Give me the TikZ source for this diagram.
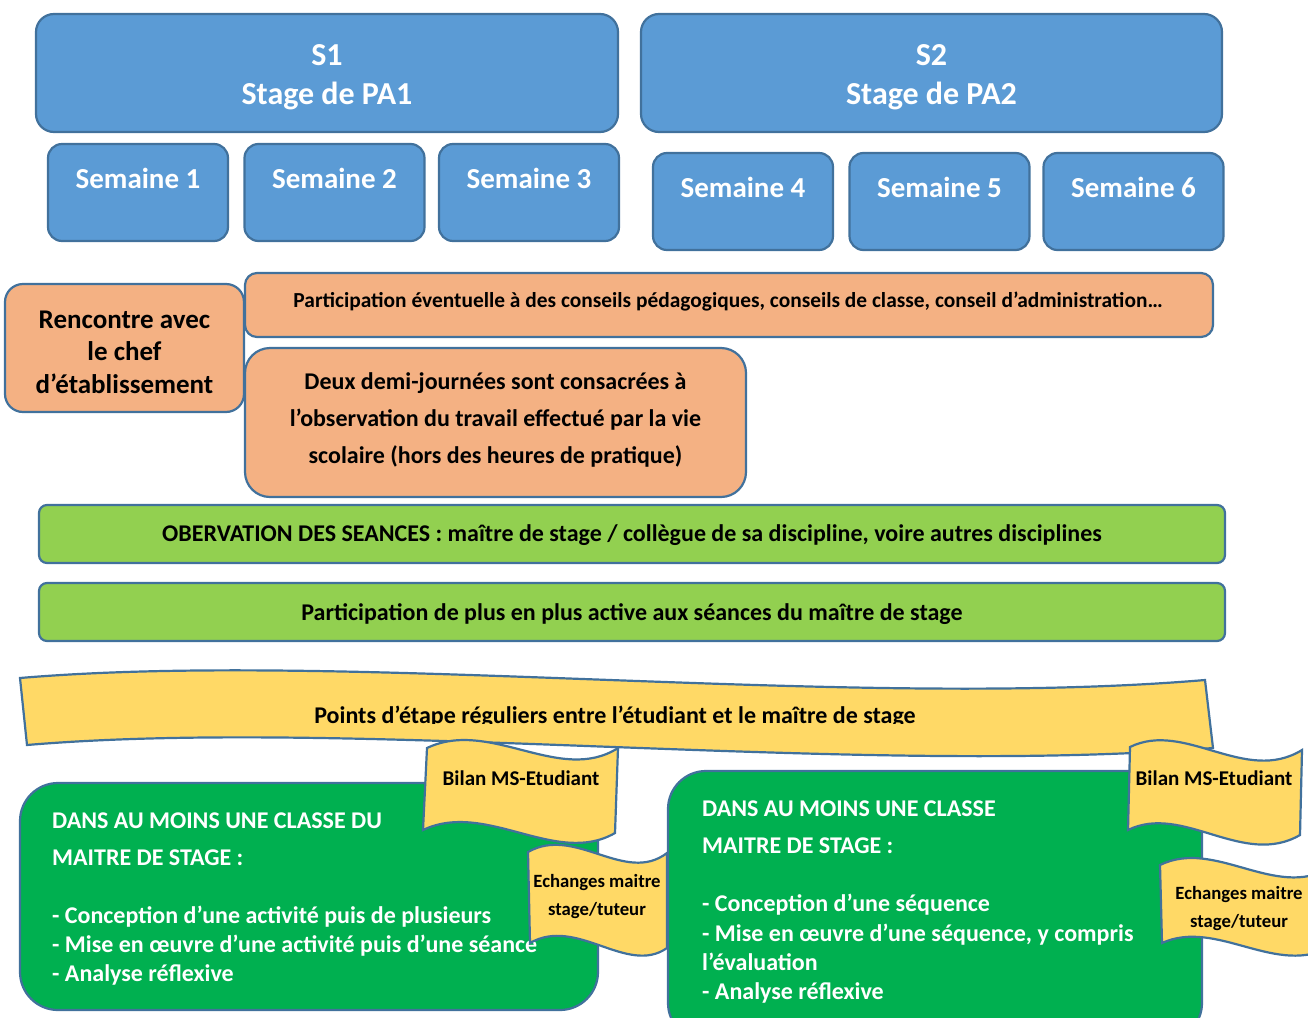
\documentclass[tikz,border=0pt]{standalone}
\usepackage{fontspec}
\setmainfont{Carlito}
\definecolor{bfill}{HTML}{5B9BD5}
\definecolor{bline}{HTML}{41719C}
\definecolor{ofill}{HTML}{F4B183}
\definecolor{lgreen}{HTML}{92D050}
\definecolor{dgreen}{HTML}{00B050}
\definecolor{yfill}{HTML}{FFD966}
\newcommand{\fs}[2]{\fontsize{#1}{#2}\selectfont\bfseries}
\begin{document}
\begin{tikzpicture}[x=1pt,y=-1pt,
  box/.style={draw=bline,line width=2.2pt,inner sep=0pt},
  bluebox/.style={box,fill=bfill,rounded corners=18pt},
  weekbox/.style={box,fill=bfill,rounded corners=14pt,minimum width=180pt,minimum height=97pt},
  weektxt/.style={text=white,font=\fs{29}{32}},
  orangebox/.style={box,fill=ofill},
  greenbar/.style={box,fill=lgreen,rounded corners=8pt,minimum width=1186pt,minimum height=58pt,font=\fs{24}{26}},
  darkbox/.style={box,fill=dgreen,rounded corners=38pt},
  dtxt/.style={anchor=base west,inner sep=0pt,text=white,font=\fs{24}{26}},
  flag/.style={draw=bline,line width=2.2pt,fill=yfill},
  flagtxt/.style={font=\fs{21}{24}},
  echtxt/.style={align=center,font=\fs{18.7}{28}}]
\useasboundingbox (0,0) rectangle (1308,1017);
% top blue boxes
\node[bluebox,minimum width=582pt,minimum height=118pt] (s1) at (327,73) {};
\node[bluebox,minimum width=581pt,minimum height=118pt] (s2) at (931.5,73) {};
\node[text=white,align=center,font=\fs{32}{39}] (s1t) at (327,77) {S1\\Stage de PA1};
\node[text=white,align=center,font=\fs{32}{39}] (s2t) at (931.5,77) {S2\\Stage de PA2};
\node[weekbox] (w1) at (138,192.5) {};
\node[weekbox] (w2) at (334.5,192.5) {};
\node[weekbox] (w3) at (529,192.5) {};
\node[weekbox] (w4) at (743,201.5) {};
\node[weekbox] (w5) at (939.5,201.5) {};
\node[weekbox] (w6) at (1133.5,201.5) {};
\node[weektxt] (t1) at (138,178.5) {Semaine 1};
\node[weektxt] (t2) at (334.5,178.5) {Semaine 2};
\node[weektxt] (t3) at (529,178.5) {Semaine 3};
\node[weektxt] (t4) at (743,187.5) {Semaine 4};
\node[weektxt] (t5) at (939.5,187.5) {Semaine 5};
\node[weektxt] (t6) at (1133.5,187.5) {Semaine 6};
% orange boxes
\node[orangebox,rounded corners=12pt,minimum width=968pt,minimum height=64pt] (conseils) at (729,305) {};
\node[font=\fs{21.4}{24}] (conseilst) at (728,302) {Participation éventuelle à des conseils pédagogiques, conseils de classe, conseil d’administration…};
\node[orangebox,rounded corners=18pt,minimum width=239pt,minimum height=128pt] (chef) at (124.5,348) {};
\node[align=center,font=\fs{27}{32.5}] (cheft) at (124.5,352) {Rencontre avec\\le chef\\d’établissement};
\node[orangebox,rounded corners=25pt,minimum width=501pt,minimum height=149pt] (demi) at (495.5,422.5) {};
\node[align=center,font=\fs{24}{37}] (demit) at (495.5,419.5) {Deux demi-journées sont consacrées à\\l’observation du travail effectué par la vie\\scolaire (hors des heures de pratique)};
% green bars
\node[greenbar] (obs) at (632,534) {};
\node[font=\fs{24}{26}] (obst) at (632,535) {OBERVATION DES SEANCES : maître de stage / collègue de sa discipline, voire autres disciplines};
\node[greenbar] (part) at (632,612) {};
\node[font=\fs{24}{26}] (partt) at (632,614) {Participation de plus en plus active aux séances du maître de stage};
% banner
\draw[flag] (20,678) .. controls (350,650) and (850,710) .. (1205,680) -- (1213,748)
  .. controls (857,777) and (357,717) .. (27,745) -- cycle;
\begin{scope}
\clip (0,690) rectangle (1308,723.5);
\node[font=\fs{24}{26}] (points) at (615,717) {Points d’étape réguliers entre l’étudiant et le maître de stage};
\end{scope}
% dark green boxes
\node[darkbox,minimum width=578pt,minimum height=227pt] (g1) at (309,896.5) {};
\node[darkbox,minimum width=534pt,minimum height=270pt] (g2) at (935,906) {};
\node[dtxt] (g1a) at (52,828) {DANS AU MOINS UNE CLASSE DU};
\node[dtxt] (g1b) at (52,865) {MAITRE DE STAGE :};
\node[dtxt] (g1c) at (52,923) {- Conception d’une activité puis de plusieurs};
\node[dtxt] (g1d) at (52,952) {- Mise en œuvre d’une activité puis d’une séance};
\node[dtxt] (g1e) at (52,981) {- Analyse réflexive};
\node[dtxt] (g2a) at (702,816) {DANS AU MOINS UNE CLASSE};
\node[dtxt] (g2b) at (702,853) {MAITRE DE STAGE :};
\node[dtxt] (g2c) at (702,911) {- Conception d’une séquence};
\node[dtxt] (g2d) at (702,941) {- Mise en œuvre d’une séquence, y compris};
\node[dtxt] (g2e) at (702,970) {l’évaluation};
\node[dtxt] (g2f) at (702,999) {- Analyse réflexive};
% flags
\draw[flag] (427,748) .. controls (490,718) and (560,785) .. (618,748) -- (615,833)
  .. controls (556,867) and (486,800) .. (423,830) -- cycle;
\node[flagtxt] (bil1) at (521,778) {Bilan MS-Etudiant};
\draw[flag] (528,852) .. controls (575,825) and (625,885) .. (667,853) -- (667,948)
  .. controls (627,976) and (577,916) .. (530,943) -- cycle;
\node[echtxt] (ech1) at (597,897) {Echanges maitre\\stage/tuteur};
\draw[flag] (1130,747) .. controls (1185,720) and (1245,785) .. (1302,750) -- (1300,835)
  .. controls (1243,868) and (1183,803) .. (1128,830) -- cycle;
\node[flagtxt] (bil2) at (1214,778) {Bilan MS-Etudiant};
\draw[flag] (1160,865) .. controls (1215,838) and (1275,900) .. (1330,868) -- (1332,946)
  .. controls (1277,978) and (1217,918) .. (1162,943) -- cycle;
\node[echtxt] (ech2) at (1239,909) {Echanges maitre\\stage/tuteur};
\end{tikzpicture}
\end{document}
